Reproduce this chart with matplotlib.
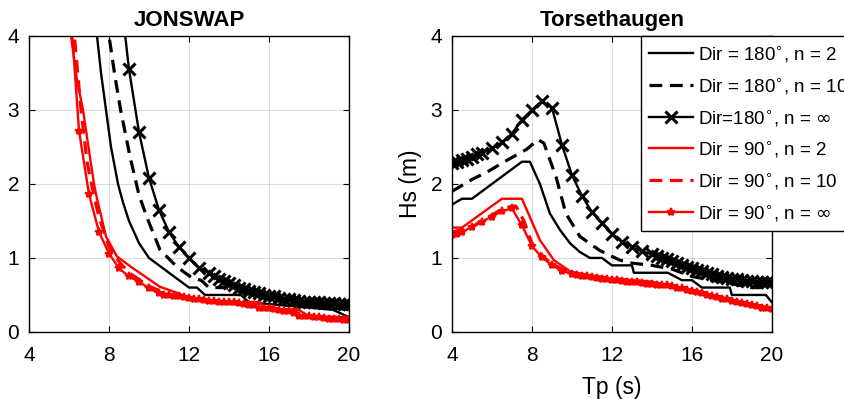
import numpy as np
import matplotlib
matplotlib.use("Agg")
import matplotlib.pyplot as plt

plt.rcParams.update({
    "font.family": ["Liberation Sans", "DejaVu Sans"],
    "font.size": 13,
})

# ---- JONSWAP ----
js_b2_tp = [7.2, 7.4, 7.6, 7.85, 8.1, 8.45, 8.7, 9.0, 9.5, 10.0, 11.0, 12.0, 12.4, 12.8, 14.6, 15.0, 19.2, 20.0]
js_b2_hs = [4.6, 4.0, 3.5, 3.0, 2.5, 2.0, 1.75, 1.5, 1.2, 1.0, 0.8, 0.6, 0.6, 0.5, 0.5, 0.4, 0.3, 0.2]

js_b10_tp = [7.8, 8.0, 8.3, 8.58, 9.05, 9.5, 9.88, 10.55, 11.4, 12.2, 12.6, 13.0, 13.8, 14.5, 15.0, 16.0, 17.0, 18.0, 19.0, 20.0]
js_b10_hs = [4.6, 4.0, 3.45, 3.0, 2.37, 1.85, 1.56, 1.11, 0.88, 0.72, 0.7, 0.6, 0.6, 0.55, 0.5, 0.45, 0.4, 0.35, 0.33, 0.3]

js_binf_tp = [8.6, 9.0, 9.5, 10.0, 10.5, 11.0, 11.5, 12.0, 12.5, 13.0,
              13.25, 13.5, 13.75, 14.0, 14.25, 14.5, 14.75, 15.0, 15.25, 15.5, 15.75, 16.0,
              16.25, 16.5, 16.75, 17.0, 17.25, 17.5, 17.75, 18.0, 18.25, 18.5, 18.75, 19.0,
              19.25, 19.5, 19.75, 20.0]
js_binf_hs = [4.5, 3.55, 2.7, 2.08, 1.65, 1.35, 1.15, 1.0, 0.87, 0.8,
              0.76, 0.72, 0.69, 0.66, 0.63, 0.6, 0.58, 0.56, 0.54, 0.52, 0.5, 0.49,
              0.48, 0.46, 0.45, 0.44, 0.43, 0.42, 0.41, 0.41, 0.4, 0.4, 0.39, 0.39,
              0.39, 0.38, 0.38, 0.38]

js_r2_tp = [5.9, 6.1, 6.4, 6.7, 7.0, 7.25, 7.4, 7.85, 8.4, 9.1, 10.55, 11.5, 12.0, 14.0, 15.5, 16.0, 17.5, 18.0, 20.0]
js_r2_hs = [5.0, 4.0, 3.4, 3.0, 2.45, 2.0, 1.8, 1.29, 1.02, 0.88, 0.61, 0.52, 0.45, 0.4, 0.4, 0.3, 0.3, 0.2, 0.2]

js_r10_tp = [5.8, 6.3, 6.6, 6.9, 7.2, 7.5, 8.0, 8.5, 9.0, 10.0, 11.0, 12.0, 14.0, 15.5, 16.0, 17.5, 18.0, 20.0]
js_r10_hs = [5.0, 3.9, 3.0, 2.3, 1.9, 1.55, 1.15, 0.95, 0.8, 0.62, 0.5, 0.45, 0.4, 0.4, 0.3, 0.3, 0.2, 0.2]

js_rinf_tp = [5.9, 6.5, 7.0, 7.5, 8.0, 8.5, 9.0, 9.5, 10.0,
              10.5, 10.75, 11.0, 11.25, 11.5, 11.75, 12.0, 12.25, 12.5, 12.75, 13.0,
              13.25, 13.5, 13.75, 14.0, 14.25, 14.5, 14.75, 15.0, 15.25, 15.5, 15.75,
              16.0, 16.25, 16.5, 16.75, 17.0, 17.25, 17.5, 17.75, 18.0, 18.25, 18.5,
              18.75, 19.0, 19.25, 19.5, 19.75, 20.0]
js_rinf_hs = [5.0, 2.72, 1.86, 1.35, 1.06, 0.86, 0.75, 0.68, 0.59,
              0.52, 0.5, 0.5, 0.49, 0.48, 0.47, 0.46, 0.45, 0.44, 0.43, 0.42,
              0.42, 0.41, 0.41, 0.4, 0.4, 0.39, 0.38, 0.37, 0.36, 0.33, 0.32,
              0.32, 0.31, 0.3, 0.29, 0.28, 0.25, 0.22, 0.21, 0.21, 0.2, 0.2,
              0.19, 0.18, 0.18, 0.17, 0.16, 0.16]

# ---- Torsethaugen ----
ts_b2_tp = [4.0, 4.5, 5.0, 7.5, 7.9, 8.4, 8.9, 9.4, 9.9, 10.4, 10.9, 11.5, 12.0, 13.0, 13.1, 14.8, 15.5, 16.0, 16.5, 17.9, 18.0, 19.7, 20.0]
ts_b2_hs = [1.72, 1.8, 1.8, 2.3, 2.3, 2.0, 1.6, 1.38, 1.2, 1.08, 1.0, 1.0, 0.9, 0.9, 0.8, 0.8, 0.7, 0.7, 0.6, 0.6, 0.5, 0.5, 0.4]

ts_b10_tp = [4.0, 4.5, 5.0, 5.75, 6.75, 7.75, 8.3, 8.6, 9.2, 9.7, 10.4, 11.4, 12.4, 13.0, 14.0, 15.0, 15.5, 16.0, 17.0, 18.0, 19.0, 20.0]
ts_b10_hs = [1.9, 1.98, 2.06, 2.16, 2.32, 2.47, 2.6, 2.55, 2.1, 1.6, 1.29, 1.1, 0.97, 0.93, 0.9, 0.85, 0.8, 0.75, 0.7, 0.65, 0.6, 0.6]

ts_binf_tp = [4.0, 4.25, 4.5, 4.75, 5.0, 5.25, 5.5, 6.0, 6.5, 7.0, 7.5, 8.0, 8.5, 9.0,
              9.5, 10.0, 10.5, 11.0, 11.5, 12.0, 12.5, 13.0, 13.5, 14.0,
              14.25, 14.5, 14.75, 15.0, 15.25, 15.5, 15.75, 16.0, 16.25, 16.5, 16.75,
              17.0, 17.25, 17.5, 17.75, 18.0, 18.25, 18.5, 18.75, 19.0, 19.25, 19.5,
              19.75, 20.0]
ts_binf_hs = [2.28, 2.3, 2.32, 2.34, 2.37, 2.4, 2.42, 2.48, 2.56, 2.68, 2.87, 3.0, 3.12, 3.03,
              2.53, 2.12, 1.84, 1.62, 1.47, 1.33, 1.22, 1.15, 1.09, 1.05,
              1.02, 1.0, 0.98, 0.96, 0.93, 0.9, 0.88, 0.86, 0.84, 0.82, 0.8,
              0.78, 0.76, 0.74, 0.73, 0.72, 0.71, 0.7, 0.69, 0.69, 0.68, 0.68,
              0.68, 0.68]

ts_r2_tp = [4.0, 4.5, 6.5, 7.5, 8.4, 9.1, 9.9, 10.5, 11.0, 12.0, 13.0, 14.0, 15.0, 16.0, 17.0, 18.0, 19.0, 20.0]
ts_r2_hs = [1.41, 1.41, 1.8, 1.8, 1.24, 0.97, 0.82, 0.78, 0.75, 0.72, 0.7, 0.68, 0.62, 0.55, 0.5, 0.42, 0.36, 0.32]

ts_r10_tp = [4.0, 4.5, 5.0, 6.0, 6.5, 7.0, 7.2, 7.6, 8.0, 8.5, 9.0, 9.5, 10.0, 11.0, 12.0, 13.0, 14.0, 15.0, 16.0, 17.0, 18.0, 19.0, 20.0]
ts_r10_hs = [1.35, 1.38, 1.42, 1.58, 1.66, 1.7, 1.7, 1.5, 1.2, 1.03, 0.92, 0.85, 0.8, 0.76, 0.72, 0.7, 0.66, 0.62, 0.56, 0.5, 0.43, 0.37, 0.32]

ts_rinf_tp = [4.0, 4.25, 4.5, 5.0, 5.5, 6.0, 6.5, 7.0, 7.5, 8.0, 8.5, 9.0, 9.5, 10.0,
              10.25, 10.5, 10.75, 11.0, 11.25, 11.5, 11.75, 12.0, 12.25, 12.5, 12.75,
              13.0, 13.25, 13.5, 13.75, 14.0, 14.25, 14.5, 14.75, 15.0, 15.25, 15.5,
              15.75, 16.0, 16.25, 16.5, 16.75, 17.0, 17.25, 17.5, 17.75, 18.0, 18.25,
              18.5, 18.75, 19.0, 19.25, 19.5, 19.75, 20.0]
ts_rinf_hs = [1.31, 1.32, 1.35, 1.42, 1.49, 1.56, 1.63, 1.67, 1.44, 1.16, 1.01, 0.9, 0.83, 0.78,
              0.77, 0.76, 0.75, 0.74, 0.73, 0.72, 0.71, 0.7, 0.7, 0.69, 0.68,
              0.67, 0.67, 0.66, 0.65, 0.65, 0.64, 0.63, 0.63, 0.62, 0.6, 0.59,
              0.57, 0.55, 0.54, 0.52, 0.5, 0.49, 0.47, 0.45, 0.44, 0.42, 0.41,
              0.39, 0.38, 0.36, 0.35, 0.33, 0.32, 0.31]

labels = [r"Dir = 180$^{\circ}$, n = 2",
          r"Dir = 180$^{\circ}$, n = 10",
          r"Dir=180$^{\circ}$, n = $\infty$",
          r"Dir = 90$^{\circ}$, n = 2",
          r"Dir = 90$^{\circ}$, n = 10",
          r"Dir = 90$^{\circ}$, n = $\infty$"]

styles = [
    dict(color="black", lw=1.7, ls="-"),
    dict(color="black", lw=2.3, ls=(0, (4.0, 2.4))),
    dict(color="black", lw=1.7, ls="-", marker="x", ms=8, mew=2.2),
    dict(color="red", lw=1.7, ls="-"),
    dict(color="red", lw=2.3, ls=(0, (4.0, 2.4))),
    dict(color="red", lw=1.7, ls="-", marker="*", ms=6, mew=1.4),
]

panels = [
    ("JONSWAP", [(js_b2_tp, js_b2_hs), (js_b10_tp, js_b10_hs), (js_binf_tp, js_binf_hs),
                 (js_r2_tp, js_r2_hs), (js_r10_tp, js_r10_hs), (js_rinf_tp, js_rinf_hs)]),
    ("Torsethaugen", [(ts_b2_tp, ts_b2_hs), (ts_b10_tp, ts_b10_hs), (ts_binf_tp, ts_binf_hs),
                      (ts_r2_tp, ts_r2_hs), (ts_r10_tp, ts_r10_hs), (ts_rinf_tp, ts_rinf_hs)]),
]

fig = plt.figure(figsize=(8.44, 3.99), dpi=100)
ax_left = fig.add_axes([0.0344, 0.168, 0.379, 0.742])
ax_right = fig.add_axes([0.5355, 0.168, 0.379, 0.742])

for ax, (title, series) in zip([ax_left, ax_right], panels):
    for (tp, hs), st, lab in zip(series, styles, labels):
        ax.plot(tp, hs, label=lab, **st)
    ax.set_xlim(4, 20)
    ax.set_ylim(0, 4)
    ax.set_xticks([4, 8, 12, 16, 20])
    ax.set_yticks([0, 1, 2, 3, 4])
    ax.grid(True, color="#dcdcdc", lw=0.8)
    ax.set_axisbelow(True)
    ax.tick_params(direction="in", top=True, right=True, length=4, labelsize=15)
    ax.tick_params(axis="x", pad=10)
    ax.tick_params(axis="y", pad=7)
    for sp in ax.spines.values():
        sp.set_linewidth(1.0)
    ax.set_title(title, fontweight="bold", fontsize=16, pad=7)

ax_right.set_xlabel("Tp (s)", fontsize=16.5, labelpad=8)
ax_right.set_ylabel("Hs (m)", fontsize=16.5, labelpad=6)

leg = ax_right.legend(loc="upper left", bbox_to_anchor=(641 / 844, 1 - 36 / 399),
                      bbox_transform=fig.transFigure, fontsize=13.5, frameon=True,
                      fancybox=False, edgecolor="black", framealpha=1,
                      borderaxespad=0, borderpad=0.45, labelspacing=0.62,
                      handlelength=2.3, handletextpad=0.3)
leg.get_frame().set_linewidth(1.0)

fig.savefig("out.png", dpi=100)
